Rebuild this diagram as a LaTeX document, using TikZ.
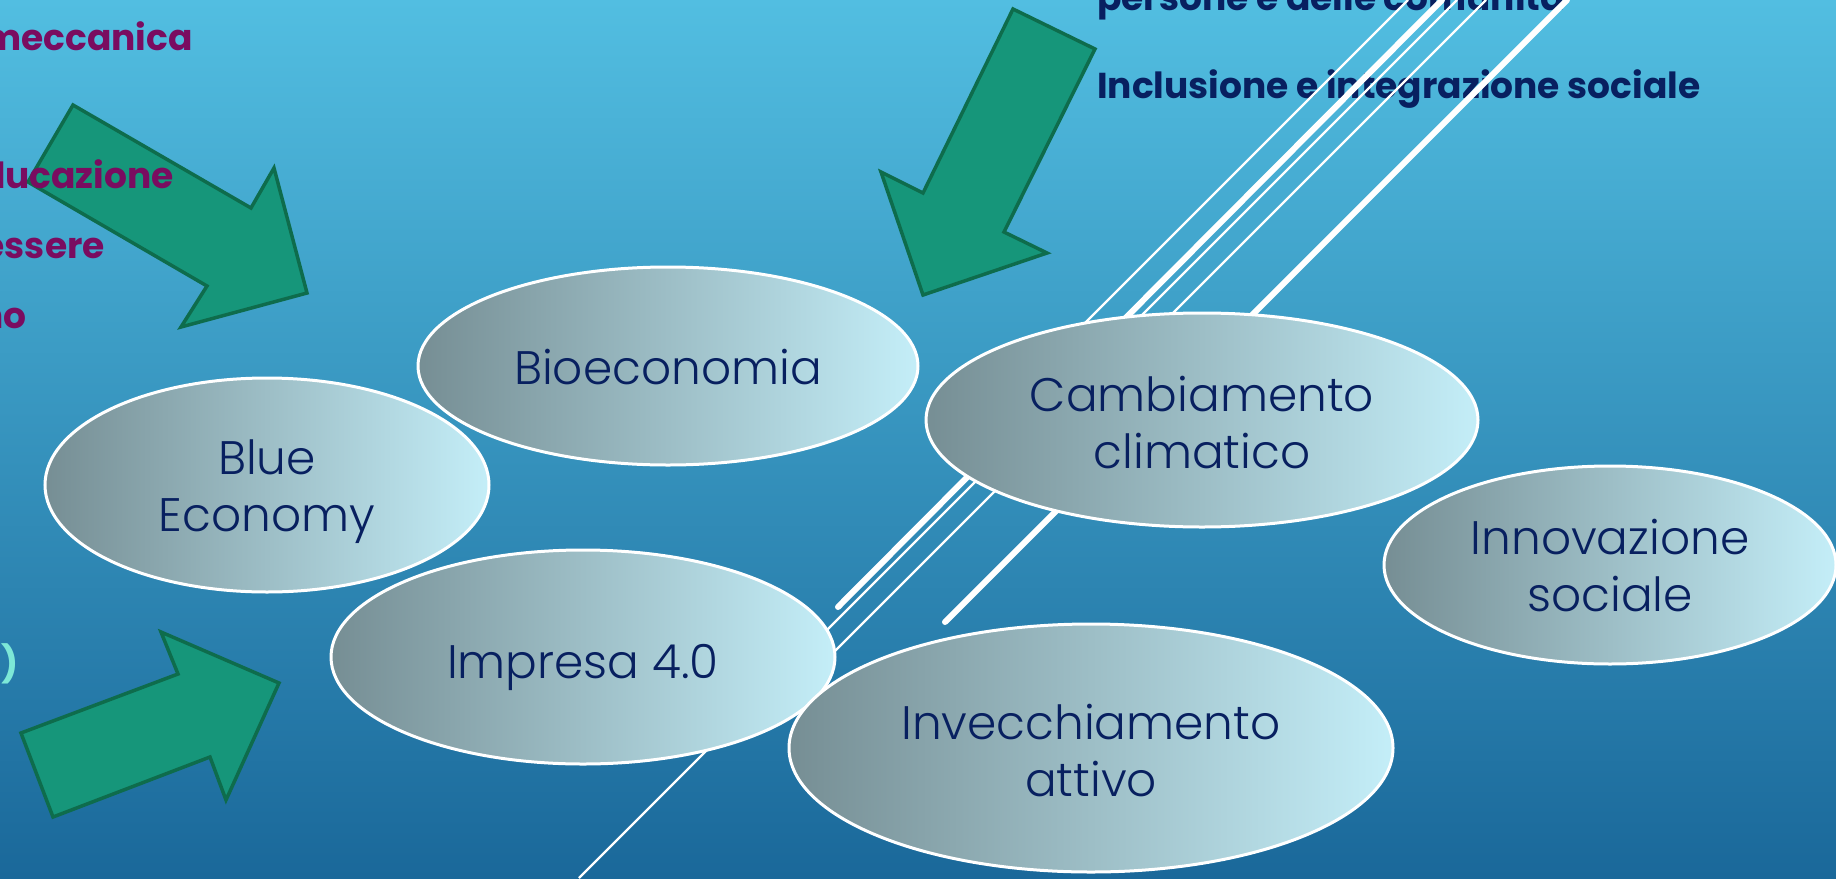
\documentclass[tikz,border=0pt]{standalone}
\usepackage{fontspec}
\setmainfont{Poppins}
\newfontfamily\plight{Poppins}[UprightFont={* Light}]
\usetikzlibrary{shapes.geometric}
\definecolor{bgtop}{RGB}{82,190,225}
\definecolor{bgbot}{RGB}{26,104,154}
\definecolor{ellL}{RGB}{118,142,148}
\definecolor{ellR}{RGB}{196,238,248}
\definecolor{navy}{RGB}{8,32,96}
\definecolor{arrfill}{RGB}{22,150,122}
\definecolor{arrline}{RGB}{14,108,76}
\definecolor{purp}{RGB}{122,12,96}
\definecolor{cyantxt}{RGB}{125,232,215}
\begin{document}
\begin{tikzpicture}[x=1pt,y=-1pt,
  topic/.style={ellipse, left color=ellL, right color=ellR, draw=white, line width=3pt,
    inner sep=0pt},
  lbl/.style={inner sep=0pt, align=center, text=navy, font=\plight\fontsize{47}{57}\selectfont},
  thinw/.style={draw=white, line width=2.2pt},
  thickw/.style={draw=white, line width=6pt, line cap=round},
  arrowst/.style={fill=arrfill, draw=arrline, line width=3.5pt, line join=miter},
  purptxt/.style={text=purp, font=\bfseries\fontsize{36}{42}\selectfont, inner sep=0pt},
  navytxt/.style={text=navy, font=\bfseries\fontsize{36}{42}\selectfont, inner sep=0pt},
  cyantx/.style={text=cyantxt, font=\bfseries\fontsize{36}{42}\selectfont, inner sep=0pt}]
\useasboundingbox (0,0) rectangle (1836,878);
\clip (0,0) rectangle (1836,878);
\fill[top color=bgtop, bottom color=bgbot] (0,0) rectangle (1836,878);

% top-right texts
\node[navytxt, anchor=base west] (pers) at (1097,10) {persone e delle comunità};
\node[navytxt, anchor=base west] (incl) at (1097,98) {Inclusione e integrazione sociale};

% white diagonal lines
\coordinate (la1) at (1408,0);   \coordinate (la2) at (1060,348);
\coordinate (lb1) at (1442,0);   \coordinate (lb2) at (838,607);
\coordinate (lc1) at (1457,0);   \coordinate (lc2) at (579,878);
\coordinate (ld1) at (1486,0);   \coordinate (ld2) at (820,666);
\coordinate (le1) at (1567,0);   \coordinate (le2) at (945,622);
\draw[thinw] (la1) -- (la2);
\draw[thickw] (lb1) -- (lb2);
\draw[thinw] (lc1) -- (lc2);
\draw[thinw] (ld1) -- (ld2);
\draw[thickw] (le1) -- (le2);

% ellipses
\node[topic, minimum width=444pt, minimum height=214pt] (blue) at (267,485) {};
\node[lbl, yshift=-7pt] (bluet) at (blue.center) {Blue\\Economy};
\node[topic, minimum width=500pt, minimum height=198pt] (bio) at (668,366) {};
\node[lbl, yshift=-1pt] (biot) at (bio.center) {Bioeconomia};
\node[topic, minimum width=552pt, minimum height=214pt] (camb) at (1202,420) {};
\node[lbl, yshift=-3pt] (cambt) at (camb.center) {Cambiamento\\climatico};
\node[topic, minimum width=452pt, minimum height=198pt] (inn) at (1610,565) {};
\node[lbl, yshift=-1pt] (innt) at (inn.center) {Innovazione\\sociale};
\node[topic, minimum width=504pt, minimum height=214pt] (imp) at (583,657) {};
\node[lbl, yshift=-10pt] (impt) at (imp.center) {Impresa 4.0};
\node[topic, minimum width=604pt, minimum height=248pt] (inv) at (1091,748) {};
\node[lbl, yshift=-3pt] (invt) at (inv.center) {Invecchiamento\\attivo};

% block arrows
\draw[arrowst] (73,105) -- (251,208) -- (274,168) -- (307,293) -- (181,327) -- (207,286) -- (28,182) -- cycle;
\draw[arrowst] (1013,9) -- (1095,49) -- (1004,232) -- (1047,253) -- (923,295) -- (881,172) -- (923,193) -- cycle;
\draw[arrowst] (21,733) -- (178,674) -- (161,632) -- (279,683) -- (226,800) -- (210,757) -- (53,817) -- cycle;

% left texts (cut by the left edge)
\node[purptxt, anchor=base east] (t1) at (193,50) {meccanica};
\node[purptxt, anchor=base east] (t2) at (174,188) {ducazione};
\node[purptxt, anchor=base east] (t3) at (105,258) {essere};
\node[purptxt, anchor=base east] (t4) at (27,328) {no};
\node[cyantx, anchor=base east] (t5) at (19,676) {)};
\end{tikzpicture}
\end{document}
